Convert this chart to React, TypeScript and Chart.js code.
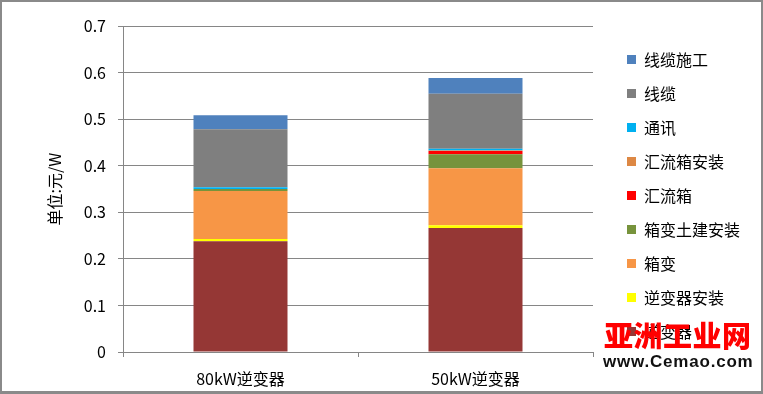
import React, { useEffect, useRef } from "react";
import { Chart, registerables } from "chart.js";

Chart.register(...registerables);

const categories = ["80kW逆变器", "50kW逆变器"];
const seriesNames = ["逆变器", "逆变器安装", "箱变", "箱变土建安装", "汇流箱", "汇流箱安装", "通讯", "线缆", "线缆施工"];
const seriesColors = ["#953735", "#FFFF00", "#F79646", "#77933C", "#FF0000", "#DD8844", "#00B0F0", "#7F7F7F", "#4F81BD"];
const inverter = [0.238, 0.266];
const inverterInstall = [0.0045, 0.0064];
const boxTransformer = [0.103, 0.122];
const boxTransformerCivil = [0.0043, 0.030];
const combinerBox = [0, 0.007];
const combinerInstall = [0, 0.0015];
const communication = [0.0037, 0.0034];
const cable = [0.125, 0.118];
const cableLaying = [0.030, 0.034];
const seriesValues = [inverter, inverterInstall, boxTransformer, boxTransformerCivil, combinerBox, combinerInstall, communication, cable, cableLaying];
const yTickValues = [0, 0.1, 0.2, 0.3, 0.4, 0.5, 0.6, 0.7];
const yTitle = "单位:元/W";

const FONT = "'Noto Sans CJK SC', 'Noto Sans', sans-serif";
const AXIS = "#868686";
const LEGEND_WIDTH = 154;

const fixedLegendWidth = {
  id: "fixedLegendWidth",
  beforeLayout(chart: any) {
    const lg = chart.legend;
    if (lg && !lg.__fixed) {
      const orig = lg.fit.bind(lg);
      lg.fit = function () {
        orig();
        this.width = LEGEND_WIDTH;
      };
      lg.__fixed = true;
    }
  },
};

export default function App() {
  const ref = useRef<HTMLCanvasElement | null>(null);
  useEffect(() => {
    if (!ref.current) return;
    const chart = new Chart(ref.current, {
      type: "bar",
      data: {
        labels: categories,
        datasets: seriesNames.map((name, i) => ({
          label: name,
          data: seriesValues[i],
          backgroundColor: seriesColors[i],
          borderWidth: 0,
          xAxisID: "x",
          yAxisID: "y",
          categoryPercentage: 1,
          barPercentage: 0.4,
        })),
      },
      plugins: [fixedLegendWidth],
      options: {
        responsive: false,
        animation: false,
        layout: { padding: { right: 0, bottom: 3 } },
        plugins: {
          tooltip: { enabled: false },
          legend: {
            position: "right",
            reverse: true,
            labels: {
              boxWidth: 9,
              boxHeight: 9,
              padding: 18,
              color: "#000",
              font: { family: FONT, size: 16 },
            },
          },
        },
        scales: {
          x: {
            type: "category",
            position: "bottom",
            stacked: true,
            grid: { offset: true, drawOnChartArea: false, color: AXIS, tickLength: 5 },
            border: { color: AXIS },
            ticks: { color: "#000", font: { family: FONT, size: 16 }, padding: 12 },
            afterFit: (s: any) => { s.height = 39; },
          },
          xTop: {
            type: "linear",
            position: "top",
            display: true,
            grid: { display: false },
            border: { display: false },
            ticks: { display: false },
            afterFit: (s: any) => { s.height = 26; },
          },
          y: {
            type: "linear",
            position: "left",
            stacked: true,
            min: 0,
            max: 0.7,
            afterBuildTicks: (s: any) => { s.ticks = yTickValues.map((v) => ({ value: v })); },
            ticks: {
              color: "#000",
              font: { family: FONT, size: 16 },
              padding: 12,
              callback: (v: any) => (Number(v) === 0 ? "0" : Number(v).toFixed(1)),
            },
            grid: { color: AXIS, tickLength: 5 },
            border: { color: AXIS },
            title: { display: true, text: yTitle, color: "#000", font: { family: FONT, size: 16 }, padding: { top: 45 } },
            afterFit: (s: any) => { s.width = 123; },
          },
          yRight: {
            type: "linear",
            position: "right",
            display: true,
            grid: { display: false },
            border: { display: false },
            ticks: { display: false },
            afterFit: (s: any) => { s.width = 16; },
          },
        },
      },
    });
    return () => chart.destroy();
  }, []);

  return (
    <div style={{ position: "fixed", left: 0, top: 0, width: 763, height: 394, background: "#fff" }}>
      <canvas ref={ref} width={763} height={394} style={{ display: "block" }} />
      <div
        style={{
          position: "absolute", left: 0, top: 0, width: 763, height: 394, boxSizing: "border-box",
          border: "2px solid #8a8a8a", borderBottomWidth: 3, pointerEvents: "none",
        }}
      />
      <div
        style={{
          position: "absolute", left: 604, top: 320, fontFamily: FONT, fontWeight: 900, fontSize: 29,
          lineHeight: "29px", letterSpacing: 0.5, color: "#f00", whiteSpace: "nowrap", pointerEvents: "none",
        }}
      >
        亚洲工业网
      </div>
      <div
        style={{
          position: "absolute", left: 603, top: 352, fontFamily: "'Liberation Sans', Arial, sans-serif", fontWeight: 700,
          fontSize: 17, lineHeight: "20px", letterSpacing: 0.8, color: "#111", whiteSpace: "nowrap", pointerEvents: "none",
        }}
      >
        www.Cemao.com
      </div>
    </div>
  );
}
